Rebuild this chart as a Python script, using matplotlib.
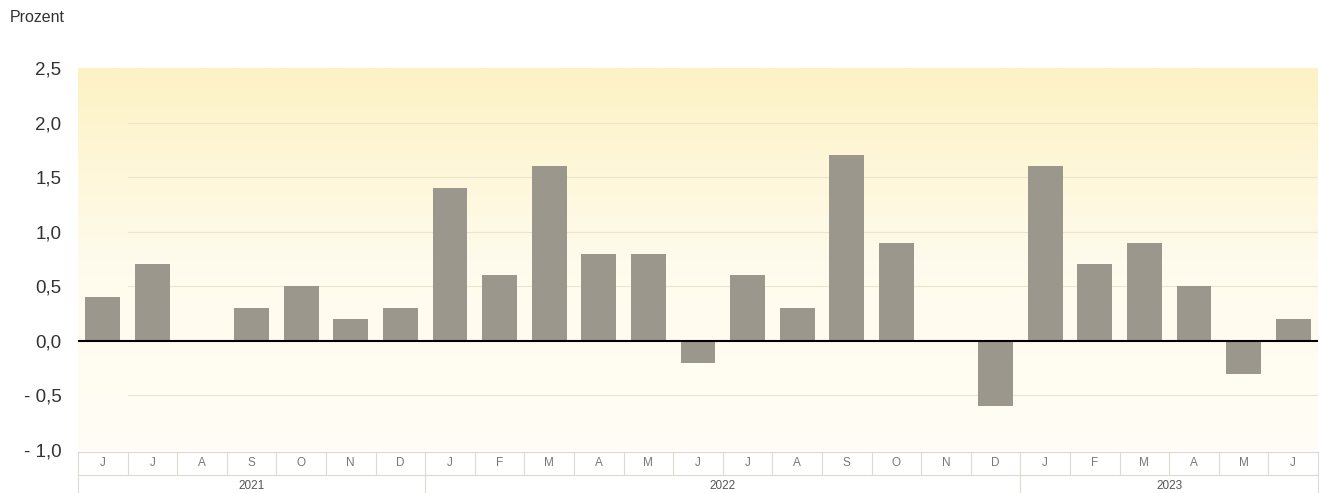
import numpy as np
import matplotlib.pyplot as plt
import matplotlib.transforms as mtransforms
from matplotlib.colors import LinearSegmentedColormap

plt.rcParams['font.family'] = ['Liberation Sans', 'DejaVu Sans']

months = ['J', 'J', 'A', 'S', 'O', 'N', 'D',
          'J', 'F', 'M', 'A', 'M', 'J', 'J', 'A', 'S', 'O', 'N', 'D',
          'J', 'F', 'M', 'A', 'M', 'J']
years = ['2021', '2022', '2023']
months_per_year = [7, 12, 6]
values = [0.4, 0.7, 0.0, 0.3, 0.5, 0.2, 0.3,
          1.4, 0.6, 1.6, 0.8, 0.8, -0.2, 0.6, 0.3, 1.7, 0.9, 0.0, -0.6,
          1.6, 0.7, 0.9, 0.5, -0.3, 0.2]
yticks = [-1.0, -0.5, 0.0, 0.5, 1.0, 1.5, 2.0, 2.5]

fig = plt.figure(figsize=(13.19, 4.93), dpi=100)
ax = fig.add_axes([78 / 1319, 1 - 450 / 493, 1240 / 1319, 382 / 493])

n = len(values)
x = np.arange(n)
ax.set_xlim(-0.5, n - 0.5)
ax.set_ylim(-1.0, 2.5)

# yellow gradient background
cmap = LinearSegmentedColormap.from_list('bg', ['#fffdf6', '#fffbec', '#fdf2c4'])
grad = np.linspace(0, 1, 256).reshape(-1, 1)
ax.imshow(grad, cmap=cmap, origin='lower', aspect='auto',
          extent=(-0.5, n - 0.5, -1.0, 2.5), zorder=0)

for t in yticks:
    if t not in (0.0, 2.5, -1.0):
        ax.axhline(t, xmin=0.04, color='#ebe5cc', lw=0.8, zorder=1)

ax.bar(x, values, width=0.7, color='#9b978d', zorder=2)
ax.axhline(0, color='black', lw=1.5, zorder=3)

for s in ax.spines.values():
    s.set_visible(False)
ax.set_yticks(yticks)
ax.set_yticklabels([('- ' if t < 0 else '') + f'{abs(t):.1f}'.replace('.', ',') for t in yticks],
                   fontsize=13.5, color='#333333')
ax.tick_params(axis='y', length=0, pad=12)
ax.set_xticks([])

# month / year table beneath the axes
trans = mtransforms.blended_transform_factory(ax.transData, fig.transFigure)
row1_top = 1 - 452 / 493
row1_bot = 1 - 475 / 493
row2_bot = 0.0
line_kw = dict(color='#dedad2', lw=0.8, transform=trans, clip_on=False)
ax.plot([-0.5, n - 0.5], [row1_top, row1_top], **line_kw)
ax.plot([-0.5, n - 0.5], [row1_bot, row1_bot], **line_kw)
for i, m in enumerate(months):
    ax.text(i, (row1_top + row1_bot) / 2, m, transform=trans, ha='center', va='center',
            fontsize=8.5, color='#777777')
for b in range(n + 1):
    ax.plot([b - 0.5, b - 0.5], [row1_top, row1_bot], **line_kw)
start = 0
for yr, cnt in zip(years, months_per_year):
    ax.text(start + cnt / 2 - 0.5, (row1_bot + row2_bot) / 2 - 0.005, yr, transform=trans,
            ha='center', va='center', fontsize=8.5, color='#555555')
    ax.plot([start - 0.5, start - 0.5], [row1_bot, row2_bot], **line_kw)
    start += cnt
ax.plot([n - 0.5, n - 0.5], [row1_bot, row2_bot], **line_kw)

fig.text(10 / 1319, 1 - 18 / 493, 'Prozent', fontsize=11.5, color='#333333', va='center')

fig.savefig('out.png', dpi=100, facecolor='white')
